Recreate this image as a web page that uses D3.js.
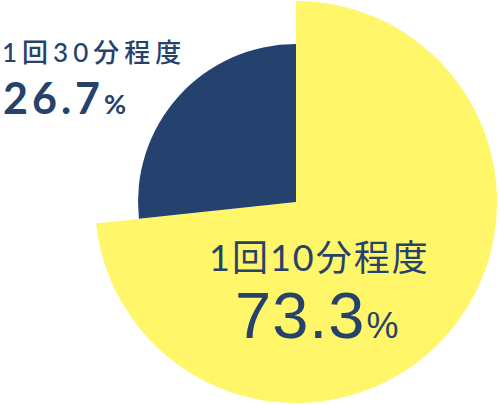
<!DOCTYPE html>
<html>
<head>
<meta charset="utf-8">
<script src="https://cdn.jsdelivr.net/npm/d3@7"></script>
<style>
  html, body { margin: 0; padding: 0; background: #fff; }
  svg { display: block; }
</style>
</head>
<body>
<svg id="pieChart" width="500" height="405"></svg>
<script>
const categories = ['1回10分程度', '1回30分程度'];
const values = [73.3, 26.7];
const percentLabels = ['73.3', '26.7'];

const colors = ['#fff669', '#25416d'];
const radii = [201, 158];

const svg = d3.select('#pieChart');
const cx = 296, cy = 202;

const pie = d3.pie().sort(null).value(d => d.value);
const data = categories.map((c, i) => ({ name: c, value: values[i], idx: i }));
const arcs = pie(data);

const g = svg.append('g').attr('transform', `translate(${cx}, ${cy})`);

g.selectAll('path').data(arcs).enter().append('path')
  .attr('d', d => d3.arc().innerRadius(0).outerRadius(radii[d.data.idx])(d))
  .attr('fill', d => colors[d.data.idx]);

const textColor = '#26426b';
const jpFont = 'Lato, "Noto Sans CJK JP", sans-serif';

// small slice label (top-left)
svg.append('text')
  .attr('x', 2).attr('y', 62)
  .attr('fill', textColor)
  .style('font-family', jpFont)
  .style('font-weight', 500)
  .style('font-size', '26px')
  .style('letter-spacing', '5px')
  .text(categories[1]);

const p1 = svg.append('text')
  .attr('x', 3).attr('y', 114)
  .attr('fill', textColor)
  .style('font-family', 'Lato, sans-serif')
  .style('font-weight', 700)
  .style('letter-spacing', '4px');
p1.append('tspan').style('font-size', '43px').text(percentLabels[1]);
p1.append('tspan').style('font-size', '27px').attr('dx', 0).text('%');

// large slice label
svg.append('text')
  .attr('x', 209).attr('y', 271)
  .attr('fill', textColor)
  .style('font-family', jpFont)
  .style('font-weight', 400)
  .style('font-size', '36px')
  .style('letter-spacing', '2px')
  .text(categories[0]);

const p0 = svg.append('text')
  .attr('x', 235).attr('y', 338)
  .attr('fill', textColor)
  .style('font-family', '"Liberation Sans", sans-serif')
  .style('font-weight', 400)
  .style('letter-spacing', '1px');
p0.append('tspan').style('font-size', '65px').text(percentLabels[0]);
p0.append('tspan').style('font-size', '36px').attr('dx', 1).text('%');
</script>
</body>
</html>
